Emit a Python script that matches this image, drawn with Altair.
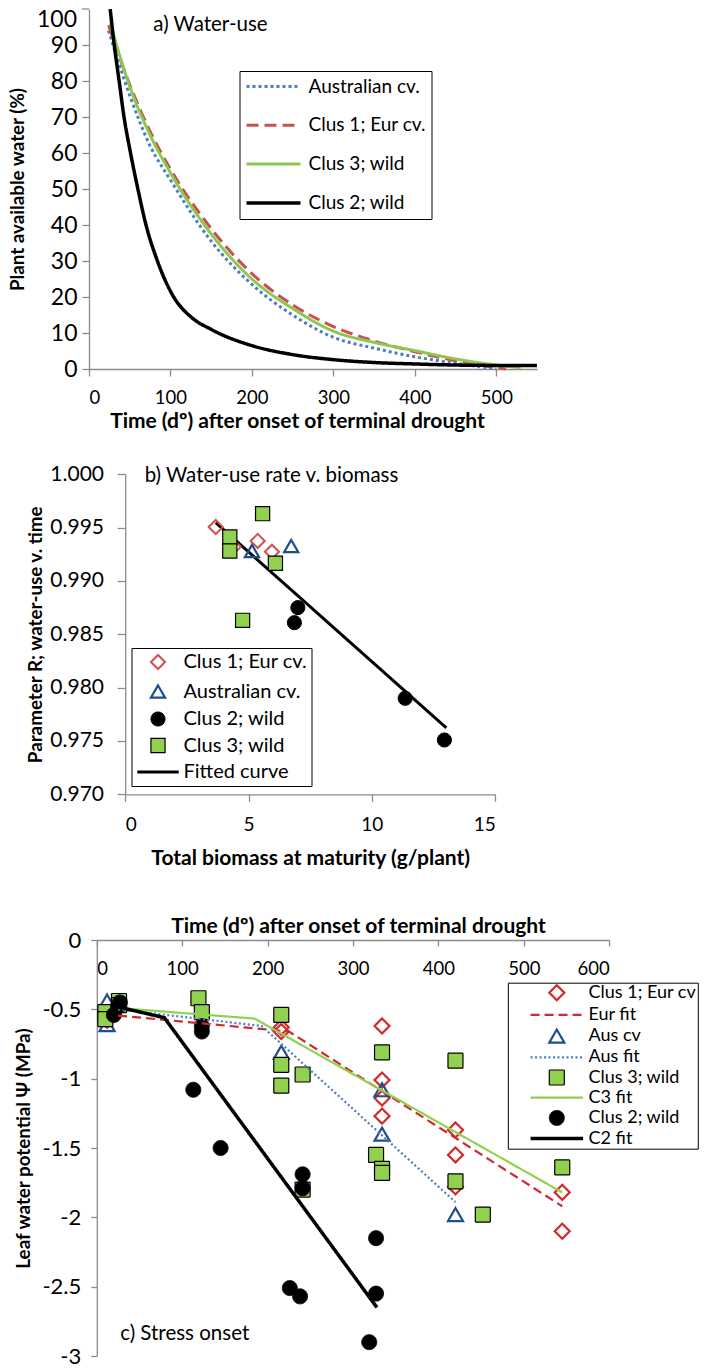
import altair as alt
import pandas as pd

FONT = "Lato"
GREY = "#8C8C8C"
BLUE_L = "#4A7EC0"
RED_A = "#C8504D"
GREEN_A = "#8EC74F"
RED_B = "#D0504D"
BLUE_T = "#1F4E8C"
GREEN_F = "#92D050"
RED_C = "#D02A2C"
XT = 21      # horizontal axis title size
YT = 18.8    # vertical axis title size

# ---------------- panel a data (water use curves) ----------------
a_series = ["Australian cv.", "Clus 1; Eur cv.", "Clus 3; wild", "Clus 2; wild"]
a_aus_t = [24, 50, 75, 100, 150, 200, 250, 300, 350, 400, 450, 500]
a_aus_v = [94, 76, 62, 52.5, 35.5, 23.5, 15, 8.8, 5.8, 3.4, 1.6, 0]
a_eur_t = [24, 50, 75, 100, 150, 200, 250, 300, 350, 400, 450, 512]
a_eur_v = [95.5, 79, 66, 55.5, 39, 26.5, 17.8, 11.8, 7.8, 4.8, 2.3, 0]
a_c3_t = [26, 50, 75, 100, 150, 200, 250, 300, 350, 400, 450, 500, 530]
a_c3_v = [96, 78.5, 65, 54.5, 37.5, 25, 16.8, 10.5, 7.4, 5.1, 2.8, 1.1, 0.4]
a_c2_t = [26, 31, 37, 43, 51, 60, 70, 84, 104, 125, 150, 200, 250, 300, 350, 400, 450, 500, 550]
a_c2_v = [100, 90, 80, 70, 60, 50, 40, 30, 20, 14.5, 11, 6.5, 4, 2.6, 1.8, 1.4, 1.1, 1.0, 1.0]
a_ticks = [0, 10, 20, 30, 40, 50, 60, 70, 80, 90, 100]

# ---------------- panel b data (R v. biomass) ----------------
b_series = ["Clus 1; Eur cv.", "Australian cv.", "Clus 2; wild", "Clus 3; wild", "Fitted curve"]
b_eur_x = [3.67, 4.4, 5.37, 5.95]
b_eur_y = [0.99506, 0.9932, 0.99375, 0.99274]
b_aus_x = [5.14, 6.73]
b_aus_y = [0.99281, 0.99328]
b_c2_x = [7.0, 6.86, 11.35, 12.94]
b_c2_y = [0.9875, 0.98609, 0.9790, 0.97509]
b_c3_x = [5.57, 4.24, 4.24, 6.09, 4.76]
b_c3_y = [0.99631, 0.99412, 0.99281, 0.99166, 0.98631]
b_fit_x = [3.67, 13.02]
b_fit_y = [0.99547, 0.97622]

# ---------------- panel c data (leaf water potential) ----------------
c_series = ["Clus 1; Eur cv", "Eur fit", "Aus cv", "Aus fit",
            "Clus 3; wild", "C3 fit", "Clus 2; wild", "C2 fit"]
c_eur_x = [12, 216, 216, 334, 334, 334, 334, 420, 420, 420, 545, 545]
c_eur_y = [-0.58, -0.63, -0.66, -0.62, -1.01, -1.14, -1.27, -1.37, -1.55, -1.78, -1.82, -2.1]
c_aus_x = [12, 12, 216, 334, 334, 420]
c_aus_y = [-0.44, -0.61, -0.81, -1.08, -1.4, -1.98]
c_c3_x = [10, 10, 26, 26, 119, 123, 216, 216, 216, 241, 241, 334, 327, 334, 334, 420, 420, 452, 545]
c_c3_y = [-0.52, -0.57, -0.44, -0.47, -0.42, -0.52, -0.54, -0.9, -1.05, -0.97, -1.8,
          -0.81, -1.55, -1.65, -1.68, -0.87, -1.74, -1.98, -1.64]
c_c2_x = [20, 25, 27, 113, 123, 123, 145, 241, 241, 226, 238, 327, 327, 319]
c_c2_y = [-0.54, -0.48, -0.45, -1.08, -0.62, -0.66, -1.5, -1.69, -1.79, -2.51, -2.57,
          -2.15, -2.55, -2.9]
c_eurfit_x = [25, 225, 545]
c_eurfit_y = [-0.545, -0.66, -1.92]
c_ausfit_x = [25, 193, 420]
c_ausfit_y = [-0.5, -0.62, -1.89]
c_c3fit_x = [25, 185, 545]
c_c3fit_y = [-0.49, -0.567, -1.82]
c_c2fit_x = [23, 79, 328]
c_c2fit_y = [-0.48, -0.56, -2.65]


def frame(xs, ys, name, xcol, ycol, scol):
    return pd.DataFrame({xcol: xs, ycol: ys, scol: name})


def ax(**kw):
    d = dict(grid=False, domainColor=GREY, tickColor=GREY, domainWidth=1.3, tickWidth=1.3,
             labelColor="black", labelFont=FONT, titleFont=FONT, titleColor="black",
             titleFontWeight="bold", labelOverlap=False)
    d.update(kw)
    return alt.Axis(**d)


# ======================= panel a =======================
A_W, A_H, A_VH = 448, 360, 431
df_a = pd.concat([
    frame(a_aus_t, a_aus_v, a_series[0], "t", "v", "sa"),
    frame(a_eur_t, a_eur_v, a_series[1], "t", "v", "sa"),
    frame(a_c3_t, a_c3_v, a_series[2], "t", "v", "sa"),
    frame(a_c2_t, a_c2_v, a_series[3], "t", "v", "sa"),
])
xa = alt.X("t:Q", scale=alt.Scale(domain=[0, 550], range=[0, A_W], nice=False, zero=False),
           axis=ax(values=[0, 100, 200, 300, 400, 500], offset=A_H - A_VH, tickSize=7,
                   labelPadding=21.7, labelBaseline="middle", labelFontSize=18.5,
                   title="Time (dº) after onset of terminal drought", titleX=208, titleY=52,
                   titleBaseline="middle", titleFontSize=XT))
# the top tick (100) is drawn separately so that its label can hang below the frame edge
ya = alt.Y("v:Q", scale=alt.Scale(domain=[0, 100], range=[A_H, 0], nice=False),
           axis=ax(values=a_ticks[:-1], tickSize=7, labelPadding=5, labelFontSize=23,
                   title="Plant available water (%)", titleX=-72, titleBaseline="middle",
                   titleFontSize=YT))
leg_a = alt.Legend(title=None, orient="none", legendX=150.5, legendY=62, direction="vertical",
                   columns=1, symbolType="M-3,0L3,0", symbolSize=324, symbolOffset=18,
                   labelOffset=24, labelFont=FONT, labelFontSize=19, labelColor="black",
                   rowPadding=17.7, padding=5, strokeColor="black", fillColor="white",
                   labelLimit=0)
lines_a = alt.Chart(df_a).mark_line(interpolate="monotone", strokeCap="butt", strokeJoin="round",
                                    clip=True).encode(
    x=xa, y=ya,
    stroke=alt.Stroke("sa:N", scale=alt.Scale(domain=a_series,
                      range=[BLUE_L, RED_A, GREEN_A, "black"]), legend=leg_a),
    strokeDash=alt.StrokeDash("sa:N", scale=alt.Scale(domain=a_series,
                              range=[[3, 3], [12, 6], [1, 0], [1, 0]]), legend=leg_a),
    strokeWidth=alt.StrokeWidth("sa:N", scale=alt.Scale(type="ordinal", domain=a_series,
                                range=[3, 3, 3, 3.5]), legend=leg_a),
)
txt_a = alt.Chart(pd.DataFrame({"t": [79], "v": [95.5], "label": ["a) Water-use"]})).mark_text(
    align="left", baseline="middle", font=FONT, fontSize=20.5, color="black").encode(
    x=xa, y=ya, text="label:N")
top_df = pd.DataFrame({"v": [a_ticks[-1]], "label": [str(a_ticks[-1])]})
top_lbl = alt.Chart(top_df).mark_text(
    align="right", baseline="top", font=FONT, fontSize=23, color="black").encode(
    x=alt.value(-12), y=ya, text="label:N")
top_tick = alt.Chart(top_df).mark_rule(color=GREY, strokeWidth=1.3).encode(
    x=alt.value(-7), x2=alt.value(0), y=ya)
panel_a = alt.layer(lines_a, txt_a, top_tick, top_lbl).properties(width=A_W, height=A_VH)

# ======================= panel b =======================
B_L, B_R, B_TOP, B_H, B_VH = 36.2, 406.2, 34.3, 320, 460
df_b = pd.concat([
    frame(b_eur_x, b_eur_y, b_series[0], "bx", "by", "sb"),
    frame(b_aus_x, b_aus_y, b_series[1], "bx", "by", "sb"),
    frame(b_c2_x, b_c2_y, b_series[2], "bx", "by", "sb"),
    frame(b_c3_x, b_c3_y, b_series[3], "bx", "by", "sb"),
])
df_bfit = pd.DataFrame({"bx": b_fit_x, "by": b_fit_y})
xb = alt.X("bx:Q", scale=alt.Scale(domain=[0, 15], range=[B_L, B_R], nice=False, zero=False),
           axis=ax(values=[0, 5, 10, 15], offset=(B_TOP + B_H) - B_VH, tickSize=7,
                   labelPadding=23, labelBaseline="middle", labelFontSize=19,
                   title="Total biomass at maturity (g/plant)", titleY=63.7,
                   titleBaseline="middle", titleFontSize=XT))
yb = alt.Y("by:Q", scale=alt.Scale(domain=[0.970, 1.000], range=[B_TOP + B_H, B_TOP],
                                   nice=False, zero=False),
           axis=ax(values=[0.970, 0.975, 0.980, 0.985, 0.990, 0.995, 1.000], format=".3f",
                   offset=-B_L, tickSize=8, labelPadding=13.7, labelFontSize=21,
                   title="Parameter R; water-use v. time", titleX=-89.4, titleBaseline="middle",
                   titleFontSize=YT))
LINE_B = "M-2.93,0L2.93,0"
leg_b = alt.Legend(title=None, orient="none", legendX=42.5, legendY=208, direction="vertical",
                   columns=1, symbolSize=200, symbolOffset=12.5, labelOffset=15.5,
                   labelFont=FONT, labelFontSize=20, labelColor="black", rowPadding=6.5,
                   padding=4, strokeColor="black", fillColor="white", labelLimit=0)
pts_b = alt.Chart(df_b).mark_point(size=200, opacity=1).encode(
    x=xb, y=yb,
    shape=alt.Shape("sb:N", scale=alt.Scale(domain=b_series,
                    range=["diamond", "triangle-up", "circle", "square", LINE_B]), legend=leg_b),
    stroke=alt.Stroke("sb:N", scale=alt.Scale(domain=b_series,
                      range=[RED_B, BLUE_T, "black", "black", "black"]), legend=leg_b),
    fill=alt.Fill("sb:N", scale=alt.Scale(domain=b_series,
                  range=["transparent", "transparent", "black", GREEN_F, "transparent"]),
                  legend=leg_b),
    strokeWidth=alt.StrokeWidth("sb:N", scale=alt.Scale(type="ordinal", domain=b_series,
                                range=[2, 2.2, 1, 1.2, 3]), legend=leg_b),
)
fit_b = alt.Chart(df_bfit).mark_line(strokeWidth=3, color="black").encode(x=xb, y=yb)
txt_b = alt.Chart(pd.DataFrame({"bx": [0.79], "by": [0.99985],
                                "label": ["b) Water-use rate v. biomass"]})).mark_text(
    align="left", baseline="middle", font=FONT, fontSize=20.5, color="black").encode(
    x=xb, y=yb, text="label:N")
panel_b = alt.layer(fit_b, pts_b, txt_b).properties(width=B_R, height=B_VH)

# ======================= panel c =======================
C_L, C_R, C_TOP, C_H, C_VH = 7.8, 520.2, 40, 416, 456
df_c = pd.concat([
    frame(c_eur_x, c_eur_y, c_series[0], "cx", "cy", "sc"),
    frame(c_aus_x, c_aus_y, c_series[2], "cx", "cy", "sc"),
    frame(c_c3_x, c_c3_y, c_series[4], "cx", "cy", "sc"),
    frame(c_c2_x, c_c2_y, c_series[6], "cx", "cy", "sc"),
])
xc = alt.X("cx:Q", scale=alt.Scale(domain=[0, 600], range=[C_L, C_R], nice=False, zero=False),
           axis=ax(values=[0, 100, 200, 300, 400, 500, 600], offset=C_TOP - C_VH, tickSize=6,
                   labelPadding=22.7, labelBaseline="middle", labelFontSize=18.5,
                   title="Time (dº) after onset of terminal drought", titleX=269,
                   titleY=-13.3, titleBaseline="middle", titleFontSize=XT))
yc = alt.Y("cy:Q", scale=alt.Scale(domain=[-3, 0], range=[C_TOP + C_H, C_TOP], nice=False,
                                   zero=False),
           axis=ax(values=[0, -0.5, -1, -1.5, -2, -2.5, -3], labelExpr="'' + datum.value",
                   offset=-C_L, tickSize=6, labelPadding=10, labelFontSize=22,
                   title="Leaf water potential Ψ (MPa)", titleX=-73.3, titleBaseline="middle",
                   titleFontSize=YT))
LINE_C = "M-3.5,0L3.5,0"
leg_c = alt.Legend(title=None, orient="none", legendX=418.8, legendY=82.7, direction="vertical",
                   columns=1, symbolSize=225, symbolOffset=38.5, labelOffset=22.2,
                   labelFont=FONT, labelFontSize=18, labelColor="black", rowPadding=1.2,
                   padding=1, strokeColor="black", fillColor="white", labelLimit=0)
c_colors = [RED_C, RED_C, BLUE_T, BLUE_L, "black", GREEN_F, "black", "black"]
c_widths = [2.2, 2.2, 2.2, 2.2, 1.2, 2.2, 1, 3.5]
c_dashes = [[1, 0], [9, 5], [1, 0], [2, 2.5], [1, 0], [1, 0], [1, 0], [1, 0]]
pts_c = alt.Chart(df_c).mark_point(size=225, opacity=1).encode(
    x=xc, y=yc,
    shape=alt.Shape("sc:N", scale=alt.Scale(domain=c_series,
                    range=["diamond", LINE_C, "triangle-up", LINE_C, "square", LINE_C, "circle",
                           LINE_C]), legend=leg_c),
    stroke=alt.Stroke("sc:N", scale=alt.Scale(domain=c_series, range=c_colors), legend=leg_c),
    fill=alt.Fill("sc:N", scale=alt.Scale(domain=c_series,
                  range=["transparent", "transparent", "transparent", "transparent", GREEN_F,
                         "transparent", "black", "transparent"]), legend=leg_c),
    strokeWidth=alt.StrokeWidth("sc:N", scale=alt.Scale(type="ordinal", domain=c_series,
                                range=c_widths), legend=leg_c),
    strokeDash=alt.StrokeDash("sc:N", scale=alt.Scale(domain=c_series, range=c_dashes),
                              legend=leg_c),
)
fit_layers = []
for fx, fy, idx in [(c_eurfit_x, c_eurfit_y, 1), (c_ausfit_x, c_ausfit_y, 3),
                    (c_c3fit_x, c_c3fit_y, 5), (c_c2fit_x, c_c2fit_y, 7)]:
    fit_layers.append(
        alt.Chart(pd.DataFrame({"cx": fx, "cy": fy})).mark_line(
            color=c_colors[idx], strokeWidth=c_widths[idx], strokeDash=c_dashes[idx],
            strokeCap="butt").encode(x=xc, y=yc))
txt_c = alt.Chart(pd.DataFrame({"cx": [27.4], "cy": [-2.84], "label": ["c) Stress onset"]})).mark_text(
    align="left", baseline="middle", font=FONT, fontSize=20.5, color="black").encode(
    x=xc, y=yc, text="label:N")
panel_c = alt.layer(pts_c, *fit_layers, txt_c).properties(width=C_R, height=C_VH)

IND = dict(stroke="independent", strokeDash="independent", strokeWidth="independent",
           shape="independent", fill="independent")
chart = alt.vconcat(panel_a, panel_b, panel_c, spacing=0).resolve_scale(**IND).resolve_legend(
    **IND).properties(padding=0).configure(font=FONT).configure_view(
    stroke="transparent", strokeWidth=0)

chart.save("out.html", embed_options={"renderer": "svg", "actions": False})
